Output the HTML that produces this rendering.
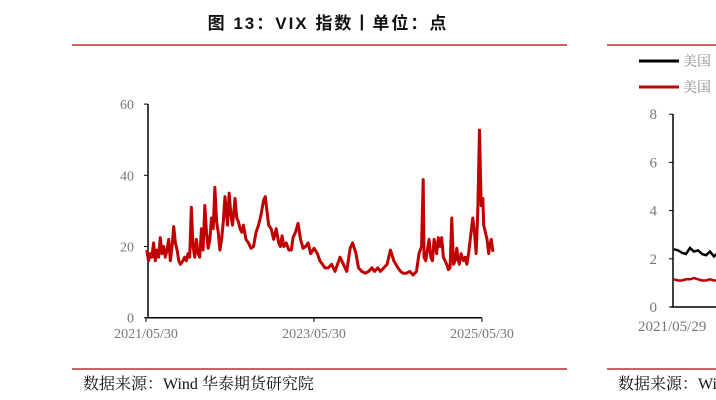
<!DOCTYPE html>
<html><head><meta charset="utf-8"><style>
body{margin:0;width:716px;height:400px;background:#fff;overflow:hidden;position:relative;font-family:"Liberation Serif","Noto Serif CJK SC",serif}
.abs{position:absolute;white-space:nowrap}
</style></head><body>
<div class="abs" style="left:0;width:656px;top:9px;text-align:center;font:bold 17px 'Liberation Sans','Noto Sans CJK SC',sans-serif;letter-spacing:2px;color:#111">图 13：VIX 指数丨单位：点</div>
<div class="abs" style="left:72px;top:44px;width:495px;height:2px;background:#c86464"></div>
<div class="abs" style="left:607px;top:44px;width:109px;height:2px;background:#c86464"></div>
<div class="abs" style="left:710px;top:9px;font:bold 17px 'Liberation Sans','Noto Sans CJK SC',sans-serif">丨</div>
<div class="abs" style="left:72px;top:368px;width:495px;height:2px;background:#c86464"></div>
<div class="abs" style="left:607px;top:368px;width:109px;height:2px;background:#c86464"></div>
<div class="abs" style="left:83px;top:371px;font-size:16px;color:#111">数据来源：Wind 华泰期货研究院</div>
<div class="abs" style="left:618px;top:371px;font-size:16px;color:#111">数据来源：Wi</div>
<svg class="abs" style="left:0;top:0" width="716" height="400">
<g id="g"></g>
</svg>
<script>
const years=[2021.42,2021.44,2021.46,2021.48,2021.50,2021.52,2021.54,2021.56,2021.58,2021.60,2021.62,2021.64,2021.66,2021.68,2021.70,2021.72,2021.74,2021.76,2021.78,2021.80,2021.82,2021.85,2021.87,2021.89,2021.91,2021.93,2021.95,2021.97,2021.99,2022.01,2022.03,2022.05,2022.07,2022.09,2022.11,2022.13,2022.15,2022.17,2022.19,2022.21,2022.23,2022.25,2022.27,2022.29,2022.31,2022.33,2022.35,2022.38,2022.40,2022.42,2022.44,2022.47,2022.49,2022.51,2022.53,2022.55,2022.57,2022.60,2022.63,2022.66,2022.69,2022.72,2022.75,2022.78,2022.81,2022.83,2022.85,2022.87,2022.90,2022.93,2022.96,2022.99,2023.01,2023.03,2023.05,2023.08,2023.11,2023.14,2023.16,2023.19,2023.22,2023.25,2023.28,2023.31,2023.34,2023.37,2023.41,2023.45,2023.48,2023.51,2023.54,2023.58,2023.62,2023.66,2023.69,2023.72,2023.76,2023.80,2023.84,2023.87,2023.91,2023.94,2023.98,2024.02,2024.06,2024.10,2024.13,2024.17,2024.20,2024.24,2024.28,2024.32,2024.36,2024.41,2024.44,2024.47,2024.51,2024.55,2024.59,2024.63,2024.66,2024.69,2024.71,2024.72,2024.74,2024.76,2024.78,2024.80,2024.82,2024.84,2024.87,2024.89,2024.91,2024.93,2024.95,2024.97,2024.99,2025.01,2025.03,2025.05,2025.07,2025.09,2025.11,2025.12,2025.14,2025.16,2025.19,2025.21,2025.23,2025.25,2025.27,2025.30,2025.32,2025.34,2025.36,2025.38,2025.40,2025.42,2025.43,2025.45,2025.47,2025.49,2025.50,2025.52,2025.54,2025.56,2025.58];
const vix=[19,16,18,17,21,16,19,17,22.5,18,20,17,19,22,16,20,25.6,21,19,16,15,16,17,16,18,17,31,20,17,22,18,17,25,19,31.5,24,19.5,22,28,25,36.6,27,24,19,22,27,34,26,35,29,26,33.5,28,27,25,24,26,22,21,19.5,20,24,26,29,33,34,30,26,25,22,25,21,20,23,20,21,19,19,22.5,24,26.5,22,19.5,20,21,18,19.5,18,16,15,14,14,15,13,15,17,15,13,19.5,21,18,14,13,12.5,13,14,13,14,13,14,15,19,16,14,13,12.5,12.5,13,12,13,18,20,38.8,17,16,19,22,17,16,22,18,22.5,20,22.5,17,16,15,13.5,14,28,15,16,19.5,17,15,18,16,17,15,18,22,28,24,18,30,52.7,31.5,33.5,26,24,22,18,20,22,18.5];
const yTicks=[0,20,40,60];
const xTickYears=[2021.41,2023.41,2025.41];
const xTickLabels=["2021/05/30","2023/05/30","2025/05/30"];
const rYTicks=[0,2,4,6,8];
const usBlack=[2.4,2.35,2.25,2.2,2.45,2.3,2.35,2.2,2.15,2.3,2.1,2.25];
const usRed=[1.15,1.1,1.1,1.15,1.15,1.2,1.15,1.1,1.1,1.15,1.1,1.1];
const NS="http://www.w3.org/2000/svg",g=document.getElementById('g');
function mk(t,a,txt){const e=document.createElementNS(NS,t);for(const k in a)e.setAttribute(k,a[k]);if(txt!==undefined)e.textContent=txt;g.appendChild(e);return e;}
const X=y=>146+(y-2021.41)*84, Y=v=>317.7-v*3.56;
let e=mk('line',{x1:148,y1:104,x2:148,y2:318,stroke:'#000','stroke-width':1.5});

e=mk('line',{x1:146,y1:317.7,x2:482,y2:317.7,stroke:'#000','stroke-width':1.5});

yTicks.forEach(v=>{mk('line',{x1:144,y1:Y(v),x2:148,y2:Y(v),stroke:'#000'});
e=mk('text',{x:134,y:Y(v)+5,'text-anchor':'end','font-size':14,fill:'#777'},v);
});
xTickYears.forEach((y,i)=>{mk('line',{x1:X(y),y1:318,x2:X(y),y2:322,stroke:'#000'});
e=mk('text',{x:X(y),y:338,'text-anchor':'middle','font-size':14,fill:'#777'},xTickLabels[i]);
});
e=mk('polyline',{points:years.map((y,i)=>X(y)+','+Y(vix[i])).join(' '),fill:'none',stroke:'#c00000','stroke-width':3,'stroke-linejoin':'round'});

const RY=v=>307-v*24.1;
e=mk('line',{x1:673,y1:114,x2:673,y2:307,stroke:'#000','stroke-width':1.5});

mk('line',{x1:671,y1:307,x2:716,y2:307,stroke:'#000','stroke-width':1.5});
rYTicks.forEach(v=>{mk('line',{x1:669,y1:RY(v),x2:673,y2:RY(v),stroke:'#000'});
e=mk('text',{x:657,y:RY(v)+5,'text-anchor':'end','font-size':15,fill:'#777'},v);
});
e=mk('text',{x:638,y:331,'font-size':15,fill:'#777'},'2021/05/29');

e=mk('polyline',{points:usBlack.map((v,i)=>(674+i*4)+','+RY(v)).join(' '),fill:'none',stroke:'#000','stroke-width':2.5});

e=mk('polyline',{points:usRed.map((v,i)=>(674+i*4)+','+RY(v)).join(' '),fill:'none',stroke:'#c00000','stroke-width':2.5});

[[61,'#000'],[87,'#c00000']].forEach(([y,c])=>{mk('line',{x1:639,y1:y,x2:679,y2:y,stroke:c,'stroke-width':3});
e=mk('text',{x:683,y:y+5,'font-size':14,fill:'#888','font-family':'Noto Serif CJK SC, serif'},'美国');
});
</script>
</body></html>
